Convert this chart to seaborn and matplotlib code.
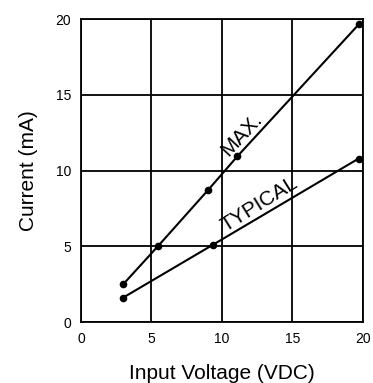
import matplotlib
matplotlib.use("Agg")
import matplotlib.pyplot as plt
import seaborn as sns
import pandas as pd

# values
max_v = [3.0, 5.5, 9.0, 11.1, 19.75]
max_i = [2.5, 5.05, 8.7, 10.95, 19.7]
typ_v = [3.0, 9.35, 19.7]
typ_i = [1.62, 5.1, 10.8]
ticks = [0, 5, 10, 15, 20]

sns.set_style("white")
plt.rcParams["font.family"] = ["Liberation Sans", "DejaVu Sans"]

fig = plt.figure(figsize=(3.73, 3.83), dpi=100)
ax = fig.add_axes([0.217, 0.159, 0.756, 0.791])

df_max = pd.DataFrame({"v": max_v, "i": max_i})
df_typ = pd.DataFrame({"v": typ_v, "i": typ_i})
sns.lineplot(data=df_max, x="v", y="i", ax=ax, color="black", lw=1.5,
             marker="o", markersize=5.5, markeredgewidth=0)
sns.lineplot(data=df_typ, x="v", y="i", ax=ax, color="black", lw=1.5,
             marker="o", markersize=5.5, markeredgewidth=0)

ax.set_xlim(0, 20)
ax.set_ylim(0, 20)
ax.set_xticks(ticks)
ax.set_yticks(ticks)
ax.grid(True, color="black", lw=1.3)
for s in ax.spines.values():
    s.set_color("black")
    s.set_linewidth(1.3)
ax.tick_params(axis="both", length=0, labelsize=10, colors="black")
ax.tick_params(axis="y", pad=7)
ax.tick_params(axis="x", pad=7)

ax.set_xlabel("Input Voltage (VDC)", fontsize=15, labelpad=13, color="black")
ax.set_ylabel("Current (mA)", fontsize=15, labelpad=13, color="black")

ax.text(11.4, 12.4, "MAX.", rotation=47, fontsize=15, color="black",
        ha="center", va="center")
ax.text(12.65, 7.75, "TYPICAL", rotation=32, fontsize=15, color="black",
        ha="center", va="center")

fig.savefig("out.png", dpi=100)
